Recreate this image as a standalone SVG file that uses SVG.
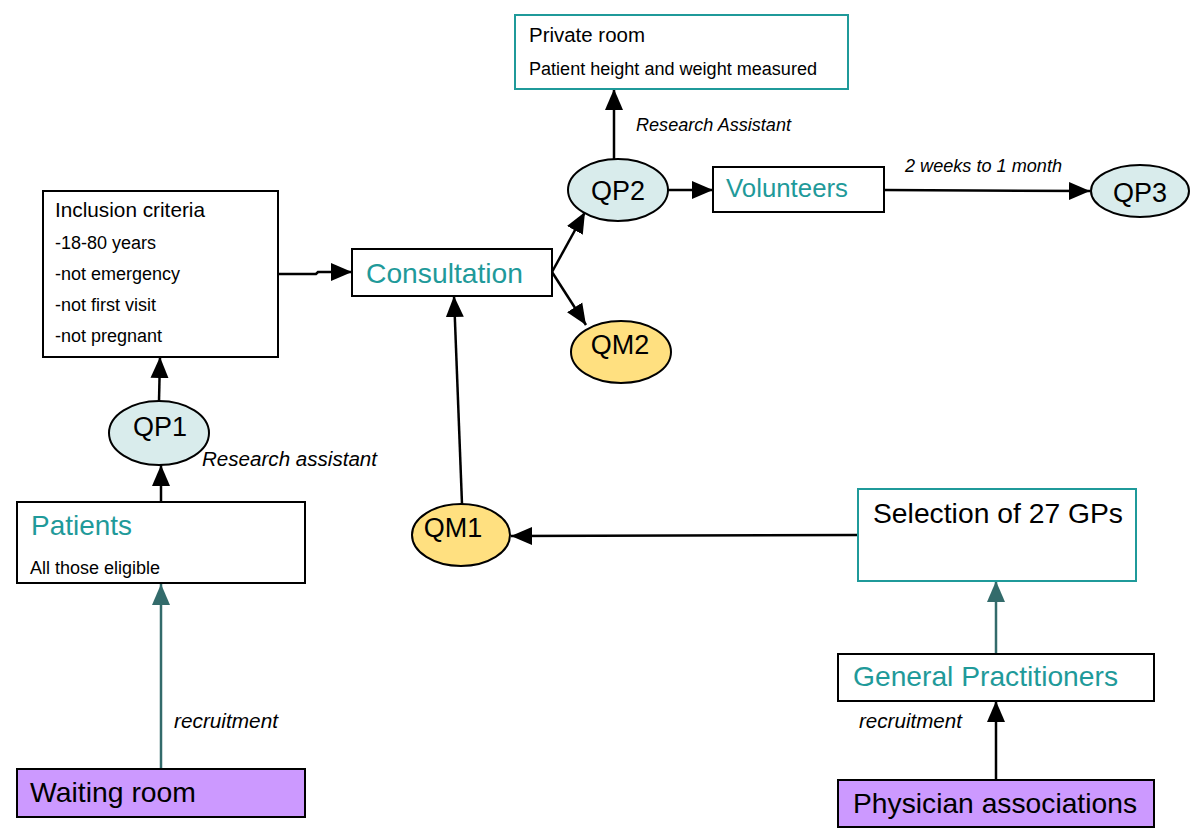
<svg xmlns="http://www.w3.org/2000/svg" width="1200" height="836" viewBox="0 0 1200 836">
<defs>
<marker id="ah" markerUnits="userSpaceOnUse" markerWidth="22" markerHeight="20" refX="21" refY="10" orient="auto"><path d="M0,1 L21,10 L0,19 Z" fill="#000"/></marker>
<marker id="aht" markerUnits="userSpaceOnUse" markerWidth="22" markerHeight="20" refX="21" refY="10" orient="auto"><path d="M0,1 L21,10 L0,19 Z" fill="#336b6b"/></marker>
</defs>
<style>
text{font-family:"Liberation Sans",Arial,sans-serif;fill:#000}
.box{fill:#fff;stroke:#000;stroke-width:2}
.tbox{fill:#fff;stroke:#1f9a9a;stroke-width:2}
.pbox{fill:#cc99ff;stroke:#000;stroke-width:2}
.qp{fill:#d9ecec;stroke:#000;stroke-width:2}
.qm{fill:#ffe080;stroke:#000;stroke-width:2}
.teal{fill:#1f9a9a}
.lab{font-style:italic;font-size:20px}
.c{fill:none;stroke:#000;stroke-width:2.5;marker-end:url(#ah)}
.ct{fill:none;stroke:#336b6b;stroke-width:2.5;marker-end:url(#aht)}
.eq{font-size:27px;text-anchor:middle}
</style>
<g id="connectors">
<path class="c" d="M278,274 L316,274 L318,272 L352,272"/>
<path class="c" d="M159,401 L160,357"/>
<path class="c" d="M161,502 L161,465"/>
<path class="ct" d="M161,769 L161,584"/>
<path class="c" d="M614,159 L614,89"/>
<path class="c" d="M668,190 L713,190"/>
<path class="c" d="M884,190 L1090,191"/>
<path class="c" d="M552,272 L585,212"/>
<path class="c" d="M552,272 L586,325"/>
<path class="c" d="M462,504 L454,296"/>
<path class="c" d="M858,535 L511,536"/>
<path class="ct" d="M996,653 L996,581"/>
<path class="c" d="M996,780 L996,701"/>
<text class="lab" x="202" y="466" textLength="175" lengthAdjust="spacingAndGlyphs">Research assistant</text>
<text class="lab" x="174" y="728" textLength="104" lengthAdjust="spacingAndGlyphs">recruitment</text>
<text class="lab" x="636" y="131" style="font-size:18px" textLength="155" lengthAdjust="spacingAndGlyphs">Research Assistant</text>
<text class="lab" x="905" y="172" style="font-size:18px" textLength="157" lengthAdjust="spacingAndGlyphs">2 weeks to 1 month</text>
<text class="lab" x="859" y="728" textLength="103" lengthAdjust="spacingAndGlyphs">recruitment</text>
</g>
<g id="inclusion">
<rect class="box" x="43" y="191" width="235" height="166"/>
<text x="55" y="217" font-size="21" textLength="150" lengthAdjust="spacingAndGlyphs">Inclusion criteria</text>
<text x="55" y="249" font-size="18">-18-80 years</text>
<text x="55" y="280" font-size="18">-not emergency</text>
<text x="55" y="311" font-size="18">-not first visit</text>
<text x="55" y="342" font-size="18">-not pregnant</text>
</g>
<g id="consultation">
<rect class="box" x="352" y="249" width="200" height="47"/>
<text class="teal" x="366" y="283" font-size="28" textLength="157" lengthAdjust="spacingAndGlyphs">Consultation</text>
</g>
<g id="qp1">
<ellipse class="qp" cx="159" cy="433" rx="50" ry="32"/>
<text class="eq" x="160" y="436">QP1</text>
</g>
<g id="patients">
<rect class="box" x="17" y="502" width="288" height="81"/>
<text class="teal" x="31" y="535" font-size="28" textLength="101" lengthAdjust="spacingAndGlyphs">Patients</text>
<text x="30" y="574" font-size="18" textLength="130" lengthAdjust="spacingAndGlyphs">All those eligible</text>
</g>
<g id="waiting">
<rect class="pbox" x="17" y="769" width="288" height="48"/>
<text x="30" y="802" font-size="28" textLength="166" lengthAdjust="spacingAndGlyphs">Waiting room</text>
</g>
<g id="private">
<rect class="tbox" x="515" y="15" width="333" height="74"/>
<text x="529" y="42" font-size="20" textLength="116" lengthAdjust="spacingAndGlyphs">Private room</text>
<text x="529" y="75" font-size="18" textLength="288" lengthAdjust="spacingAndGlyphs">Patient height and weight measured</text>
</g>
<g id="qp2">
<ellipse class="qp" cx="618" cy="190" rx="50" ry="31"/>
<text class="eq" x="618" y="200">QP2</text>
</g>
<g id="volunteers">
<rect class="box" x="713" y="167" width="171" height="45"/>
<text class="teal" x="726" y="197" font-size="26" textLength="122" lengthAdjust="spacingAndGlyphs">Volunteers</text>
</g>
<g id="qp3">
<ellipse class="qp" cx="1140" cy="191" rx="49" ry="26"/>
<text class="eq" x="1140" y="202">QP3</text>
</g>
<g id="qm2">
<ellipse class="qm" cx="621" cy="352" rx="50" ry="31"/>
<text class="eq" x="620" y="354">QM2</text>
</g>
<g id="qm1">
<ellipse class="qm" cx="461" cy="535" rx="49" ry="31"/>
<text class="eq" x="453" y="537">QM1</text>
</g>
<g id="selection">
<rect class="tbox" x="858" y="489" width="278" height="92"/>
<text x="873" y="523" font-size="28" textLength="250" lengthAdjust="spacingAndGlyphs">Selection of 27 GPs</text>
</g>
<g id="gp">
<rect class="box" x="838" y="654" width="316" height="47"/>
<text class="teal" x="853" y="686" font-size="28" textLength="265" lengthAdjust="spacingAndGlyphs">General Practitioners</text>
</g>
<g id="physician">
<rect class="pbox" x="838" y="780" width="316" height="47"/>
<text x="853" y="813" font-size="28" textLength="284" lengthAdjust="spacingAndGlyphs">Physician associations</text>
</g>
</svg>
